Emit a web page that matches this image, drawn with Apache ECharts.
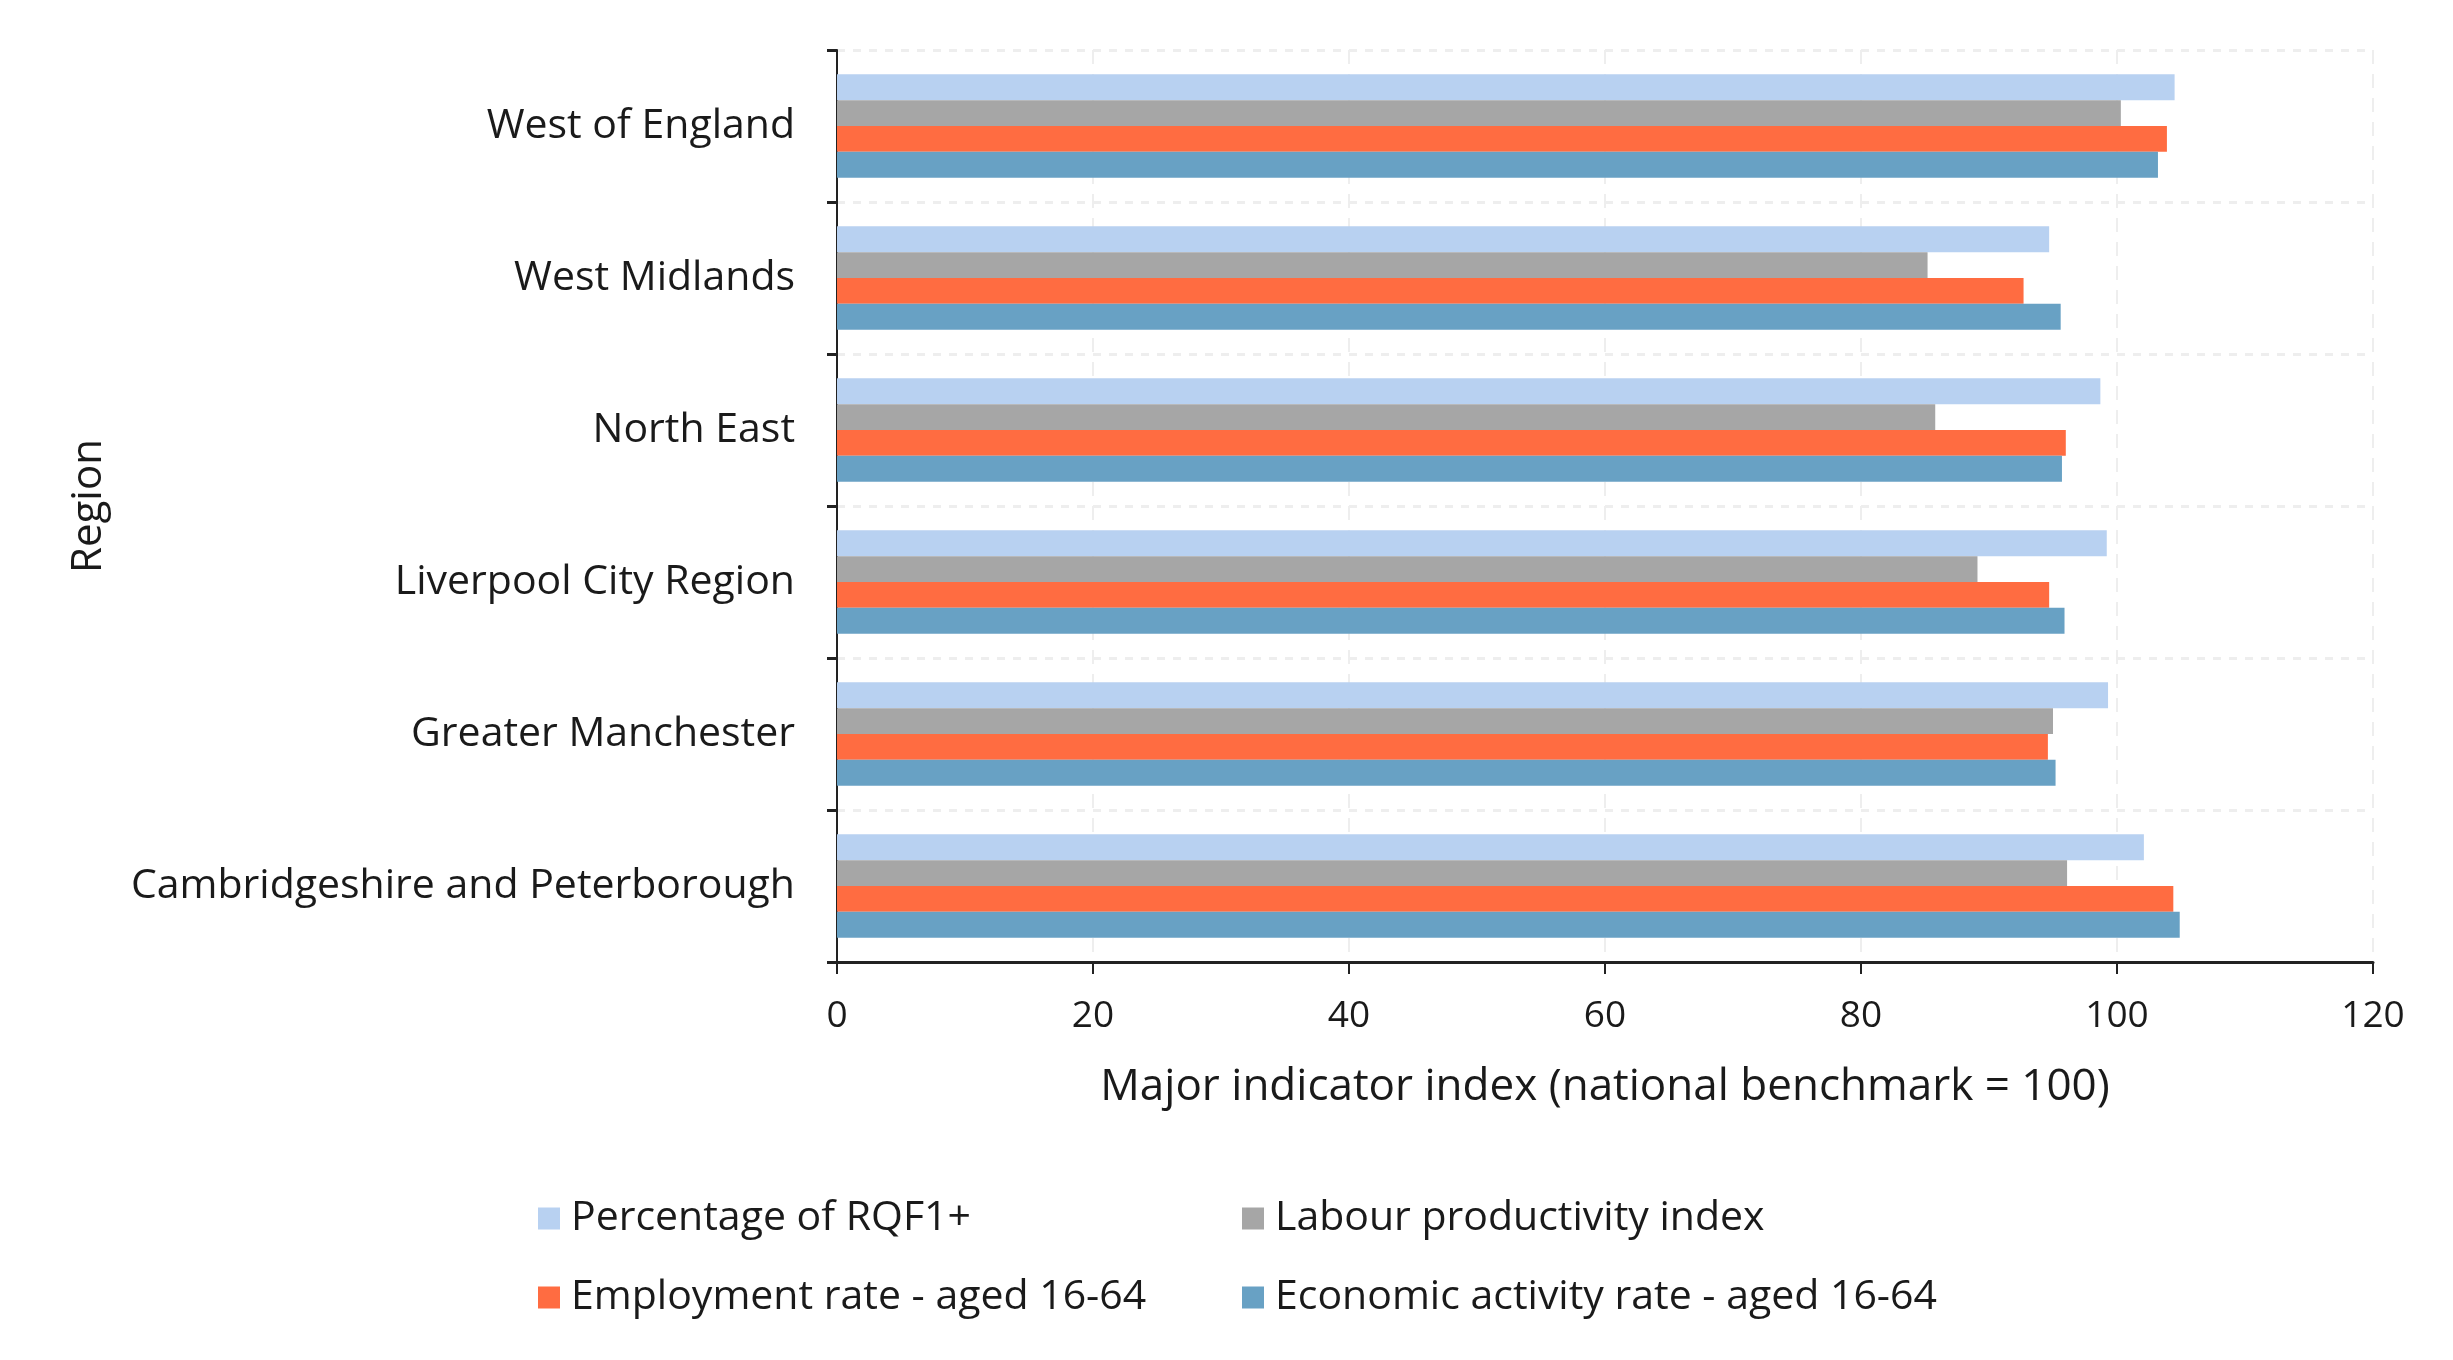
<!DOCTYPE html>
<html>
<head>
<meta charset="utf-8">
<script src="https://cdn.jsdelivr.net/npm/echarts@6/dist/echarts.min.js"></script>
<style>
  html, body { margin: 0; padding: 0; background: #fff; }
  #chart { width: 2453px; height: 1360px; }
</style>
</head>
<body>
<div id="chart"></div>
<script>
// regions, bottom to top as drawn
const regions = ['Cambridgeshire and Peterborough', 'Greater Manchester', 'Liverpool City Region', 'North East', 'West Midlands', 'West of England'];
const rqf1 = [102.1, 99.3, 99.2, 98.7, 94.7, 104.5];
const productivity = [96.1, 95.0, 89.1, 85.8, 85.2, 100.3];
const employment = [104.4, 94.6, 94.7, 96.0, 92.7, 103.9];
const activity = [104.9, 95.2, 95.9, 95.7, 95.6, 103.2];
const xTicks = [0, 20, 40, 60, 80, 100, 120];

var myChart = echarts.init(document.getElementById('chart'));
const font = 'Open Sans';
const textColor = '#1a1a1a';

function legendAt(name, left, top) {
    return {
        data: [name],
        left: left,
        top: top,
        itemWidth: 22,
        itemHeight: 22,
        icon: 'rect',
        textStyle: { fontFamily: font, fontSize: 41, color: textColor, padding: [0, 0, 0, 6] }
    };
}

const option = {
    animation: false,
    backgroundColor: '#fff',
    grid: { left: 837, right: 80, top: 50, bottom: 398 },
    legend: [
        legendAt('Percentage of RQF1+', 533, 1193),
        legendAt('Labour productivity index', 1237, 1193),
        legendAt('Employment rate - aged 16-64', 533, 1272),
        legendAt('Economic activity rate - aged 16-64', 1237, 1272)
    ],
    xAxis: {
        type: 'value',
        min: xTicks[0],
        max: xTicks[xTicks.length - 1],
        interval: 20,
        name: 'Major indicator index (national benchmark = 100)',
        nameLocation: 'middle',
        nameGap: 103,
        nameTextStyle: { fontFamily: font, fontSize: 44, color: textColor },
        axisLine: { show: true, lineStyle: { color: '#222', width: 3 } },
        axisTick: { show: true, length: 12, lineStyle: { color: '#222', width: 2 } },
        axisLabel: { fontFamily: font, fontSize: 37, color: textColor, margin: 36 },
        splitLine: { show: true, lineStyle: { color: '#eeeeee', width: 2, type: [14, 10] } }
    },
    yAxis: {
        type: 'category',
        data: regions,
        name: 'Region',
        nameLocation: 'middle',
        nameGap: 727,
        nameTextStyle: { fontFamily: font, fontSize: 42, color: textColor },
        axisLine: { show: true, lineStyle: { color: '#222', width: 2 } },
        axisTick: { show: true, length: 10, lineStyle: { color: '#222', width: 3 } },
        axisLabel: { fontFamily: font, fontSize: 41, color: textColor, margin: 42 },
        splitLine: { show: true, lineStyle: { color: '#eeeeee', width: 3, type: [8, 8] } }
    },
    series: [
        {
            name: 'Percentage of RQF1+',
            type: 'bar',
            data: rqf1,
            itemStyle: { color: '#B8D1F1' },
            barGap: '0%',
            barCategoryGap: '32%'
        },
        {
            name: 'Labour productivity index',
            type: 'bar',
            data: productivity,
            itemStyle: { color: '#A6A6A6' },
            barGap: '0%',
            barCategoryGap: '32%'
        },
        {
            name: 'Employment rate - aged 16-64',
            type: 'bar',
            data: employment,
            itemStyle: { color: '#FF6C41' },
            barGap: '0%',
            barCategoryGap: '32%'
        },
        {
            name: 'Economic activity rate - aged 16-64',
            type: 'bar',
            data: activity,
            itemStyle: { color: '#68A1C4' },
            barGap: '0%',
            barCategoryGap: '32%'
        }
    ]
};

myChart.setOption(option);

window.addEventListener('resize', function () {
    myChart.resize();
});
</script>
</body>
</html>
